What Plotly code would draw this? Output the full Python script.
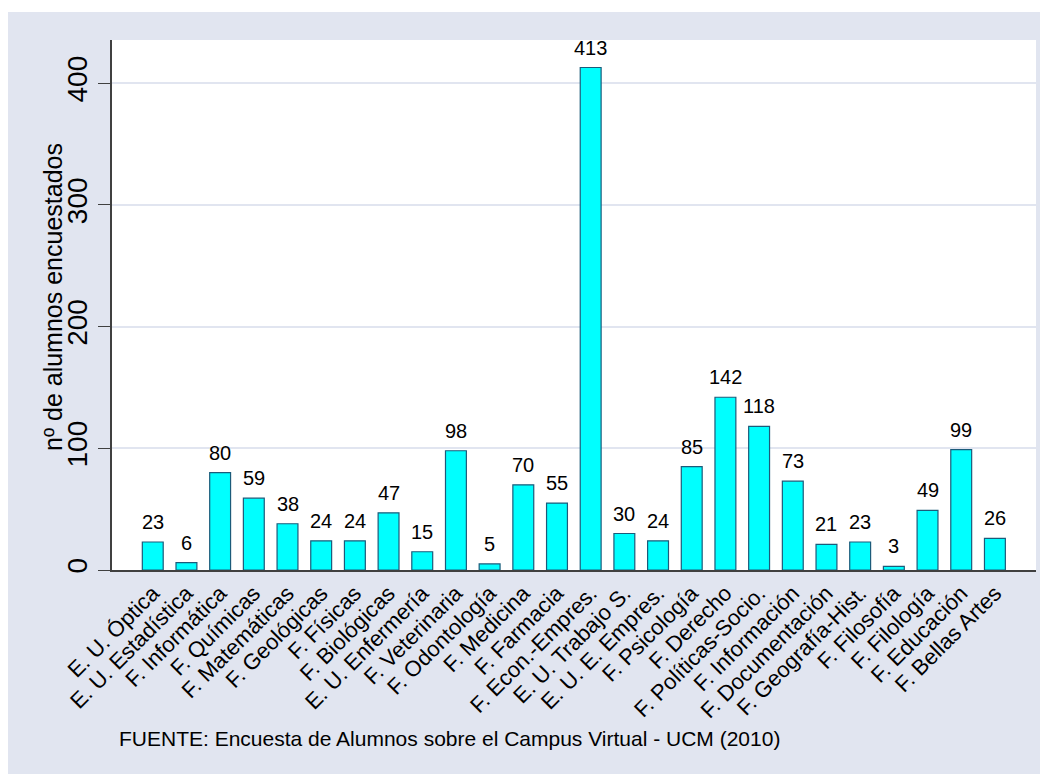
import plotly.graph_objects as go

# datos: alumnos encuestados por centro
centros = [
    "E. U. Óptica", "E. U. Estadística", "F. Informática", "F. Químicas",
    "F. Matemáticas", "F. Geológicas", "F. Físicas", "F. Biológicas",
    "E. U. Enfermería", "F. Veterinaria", "F. Odontología", "F. Medicina",
    "F. Farmacia", "F. Econ.-Empres.", "E. U. Trabajo S.", "E. U. E. Empres.",
    "F. Psicología", "F. Derecho", "F. Políticas-Socio.", "F. Información",
    "F. Documentación", "F. Geografía-Hist.", "F. Filosofía", "F. Filología",
    "F. Educación", "F. Bellas Artes",
]
alumnos = [23, 6, 80, 59, 38, 24, 24, 47, 15, 98, 5, 70, 55, 413, 30, 24,
           85, 142, 118, 73, 21, 23, 3, 49, 99, 26]
ticks_y = [0, 100, 200, 300, 400]

# la página añade 8 px de margen, así que la figura es algo más pequeña
W, H = 1040, 766
ML, MR, MT, MB = 104, 12, 32, 204
PW, PH = W - ML - MR, H - MT - MB
GRIS = "#e1e5f0"
FONT = "Liberation Sans, Arial, sans-serif"


def px(x):
    return (x - ML) / PW


def py(y):
    return (H - MB - y) / PH


fig = go.Figure(go.Bar(
    x=centros, y=alumnos,
    marker=dict(color="#00ffff", line=dict(color="#1c5b7a", width=1.2)),
    cliponaxis=False,
))

# etiquetas de valor encima de cada barra
for c, v in zip(centros, alumnos):
    fig.add_annotation(x=c, y=v, text=str(v), showarrow=False,
                       xanchor="center", yanchor="bottom", yshift=7,
                       font=dict(size=20, color="black"))

fig.add_annotation(text="nº de alumnos encuestados", textangle=-90,
                   xref="paper", yref="paper", x=px(45), y=py(289),
                   xanchor="center", yanchor="middle", showarrow=False,
                   font=dict(size=25, color="black"))
fig.add_annotation(text="FUENTE: Encuesta de Alumnos sobre el Campus Virtual - UCM (2010)",
                   xref="paper", yref="paper", x=px(109), y=py(730),
                   xanchor="left", yanchor="middle", showarrow=False,
                   font=dict(size=21, color="black"))

fig.update_layout(
    width=W, height=H,
    margin=dict(l=ML, r=MR, t=MT, b=MB, autoexpand=False),
    paper_bgcolor=GRIS, plot_bgcolor="white",
    font=dict(family=FONT, color="black"),
    bargap=0.38, showlegend=False,
    shapes=[
        # franja blanca arriba
        dict(type="rect", xref="paper", yref="paper", x0=px(-5), x1=px(W + 5),
             y0=py(4), y1=py(-5), fillcolor="white", line_width=0),
    ],
)

fig.update_xaxes(
    type="category", range=[-1.21, 26.22], tickangle=-45,
    tickfont=dict(size=22), showgrid=False, ticks="",
    showline=True, linecolor="#404040", linewidth=1.5,
)
fig.update_yaxes(
    range=[0, 435.6], tickvals=ticks_y, tickangle=-90,
    tickfont=dict(size=28), ticks="outside", ticklen=12,
    tickcolor="#404040", tickwidth=1.2, ticklabelstandoff=0,
    showline=True, linecolor="#404040", linewidth=1.5,
    gridcolor="#e1e5f0", gridwidth=1.5, zeroline=False,
)

fig.write_html("out.html")
